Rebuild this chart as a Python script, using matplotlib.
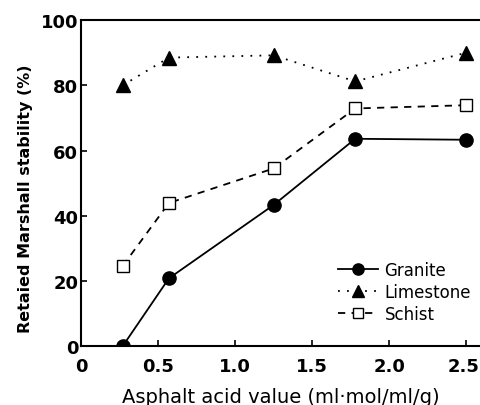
import matplotlib
matplotlib.use("Agg")
import matplotlib.pyplot as plt
import matplotlib.transforms as mtransforms

x = [0.27, 0.57, 1.25, 1.78, 2.50]
granite = [0.0, 20.8, 43.3, 63.6, 63.3]
limestone = [80.0, 88.5, 89.2, 81.2, 90.0]
schist = [24.6, 43.9, 54.5, 72.9, 73.9]

xticks = [0, 0.5, 1.0, 1.5, 2.0, 2.5]
xticklabels = ["0", "0.5", "1.0", "1.5", "2.0", "2.5"]
yticks = [0, 20, 40, 60, 80, 100]

plt.rcParams['font.family'] = ['DejaVu Sans']

fig = plt.figure(figsize=(4.8, 4.06), dpi=100)
ax = fig.add_axes([0.169, 0.145, 0.831, 0.803])

ax.plot(x, granite, color='black', linestyle='-', linewidth=1.3, marker='o',
        markersize=9.5, label='Granite')
ax.plot(x, limestone, color='black', linestyle=(0, (1, 4)), linewidth=1.3, marker='^',
        markersize=10, label='Limestone')
ax.plot(x, schist, color='black', linestyle=(0, (4, 3.5)), linewidth=1.3, marker='s',
        markersize=8.5, markerfacecolor='white', markeredgewidth=1.0, label='Schist')

ax.set_xlim(0, 2.59)
ax.set_ylim(0, 100)
ax.set_xticks(xticks)
ax.set_xticklabels(xticklabels)
ax.set_yticks(yticks)
ax.tick_params(direction='in', length=4, width=1.2, labelsize=13)
ax.tick_params(axis='y', pad=2)
ax.tick_params(axis='x', pad=8)
for lbl in ax.get_xticklabels() + ax.get_yticklabels():
    lbl.set_fontweight('bold')
# nudge the last x tick label so it stays inside the figure
last = ax.get_xticklabels()[-1]
last.set_transform(last.get_transform() +
                   mtransforms.ScaledTranslation(-3 / 100, 0, fig.dpi_scale_trans))
for s in ['left', 'bottom', 'top']:
    ax.spines[s].set_linewidth(1.5)
ax.spines['right'].set_visible(False)

ax.set_xlabel('Asphalt acid value (ml·mol/ml/g)', fontsize=14)
ax.xaxis.set_label_coords(0.5, -0.124)
ax.set_ylabel('Retaied Marshall stability (%)', fontsize=11.5, fontweight='bold')
ax.yaxis.set_label_coords(-0.12, 0.455)

leg = ax.legend(loc='lower right', bbox_to_anchor=(1.015, 0.025), frameon=False,
                prop={'size': 12}, handlelength=2.4, markerscale=0.85,
                handletextpad=0.4, labelspacing=0.25)

fig.savefig('out.png', dpi=100)
